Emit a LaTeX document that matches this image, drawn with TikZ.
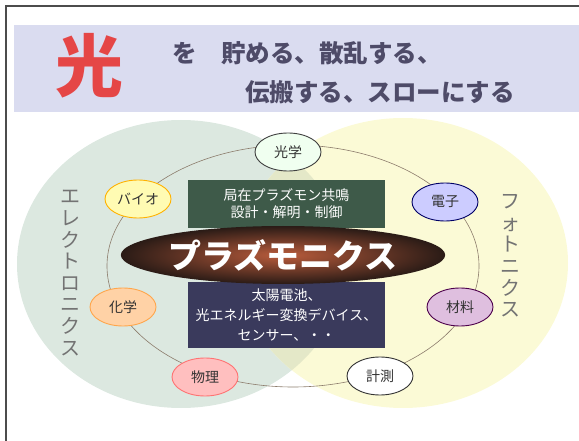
\documentclass[tikz,border=0pt]{standalone}
\usepackage{fontspec}
\setmainfont{Noto Sans CJK JP}
\usetikzlibrary{shapes.geometric}

\definecolor{bandblue}{HTML}{DADCF0}
\definecolor{titleink}{HTML}{4E4B68}
\definecolor{hikari}{HTML}{E54646}
\definecolor{venngreen}{HTML}{DCE8E0}
\definecolor{vennyellow}{HTML}{FBFAD6}
\definecolor{vennmix}{HTML}{E4E8C8}
\definecolor{ringline}{HTML}{8C7C6C}
\definecolor{boxgreen}{HTML}{3E5A49}
\definecolor{boxnavy}{HTML}{3A3A5C}
\definecolor{plasmacore}{HTML}{BA5C3C}
\definecolor{plasmarim}{HTML}{2A1B16}

\tikzset{
  field/.style={ellipse, line width=0.9pt, minimum width=66pt, minimum height=38pt,
    inner sep=0pt, text=black!80, font=\fontsize{14}{16}\selectfont},
  infobox/.style={rectangle, text=white, minimum width=197pt, inner sep=0pt, align=center},
  vtext/.style={align=center, inner sep=0pt, text=black!55, font=\fontsize{20}{21.6}\selectfont},
  titletext/.style={anchor=west, inner sep=0pt, text=titleink, font=\fontsize{24.5}{26}\selectfont\bfseries}
}

\begin{document}
\begin{tikzpicture}[x=1pt,y=-1pt]
        \useasboundingbox (0,0) rectangle (579,441);

        % Frame.
        \draw[black!70, line width=1.4pt] (6,441) -- (6,6) -- (579,6);

        % Title.
        \fill[bandblue] (14,25) rectangle (579,112);
        \node[text=hikari, inner sep=0pt, font=\fontsize{68}{70}\selectfont\bfseries] (hikari) at (89,66) {光};
        \node[titletext] (line1) at (172,53) {を　貯める、散乱する、};
        \node[titletext] (line2) at (245,92) {伝搬する、スローにする};

        % Venn.
        \fill[venngreen] (181,264) ellipse [x radius=164pt, y radius=144pt];
        \fill[vennyellow] (403,263) ellipse [x radius=165pt, y radius=145pt];
        \begin{scope}
        \clip (181,264) ellipse [x radius=164pt, y radius=144pt];
        \fill[vennmix] (403,263) ellipse [x radius=165pt, y radius=145pt];
        \end{scope}

        % Ring.
        \draw[ringline, line width=0.6pt] (293,266) ellipse [x radius=186pt, y radius=121pt];

        % Boxes.
        \node[infobox, fill=boxgreen, minimum height=48pt, font=\fontsize{14}{17}\selectfont] (design) at (286.5,204)
          {局在プラズモン共鳴\\設計・解明・制御};
        \node[infobox, fill=boxnavy, minimum height=66pt, font=\fontsize{14}{20}\selectfont] (device) at (286.5,315)
          {太陽電池、\\光エネルギー変換デバイス、\\センサー、・・};

        % Plasmonics.
        \node[ellipse, minimum width=322pt, minimum height=58pt, inner sep=0pt,
          inner color=plasmacore, outer color=plasmarim, text=white,
          font=\fontsize{33}{36}\selectfont\bfseries] (plasmo) at (283,255) {プラズモニクス};

        % Fields.
        \node[field, fill=green!6, draw=black!75] (optics) at (288,152) {光学};
        \node[field, fill=yellow!30, draw=orange!60!yellow] (bio) at (138,199) {バイオ};
        \node[field, fill=blue!20!white, draw=blue!40!black] (electron) at (445,202) {電子};
        \node[field, fill=orange!35, draw=orange!70] (chem) at (123,307) {化学};
        \node[field, fill=violet!25, draw=violet!60!black] (material) at (460,307) {材料};
        \node[field, fill=white, draw=black!80] (measure) at (380,376) {計測};
        \node[field, fill=red!25, draw=red!55] (physics) at (205,377) {物理};

        % Sides.
        \node[vtext] (electronics) at (70,273) {エ\\レ\\ク\\ト\\ロ\\ニ\\ク\\ス};
        \node[vtext] (photonics) at (510,256) {フ\\ォ\\ト\\ニ\\ク\\ス};
    \end{tikzpicture}
\end{document}
